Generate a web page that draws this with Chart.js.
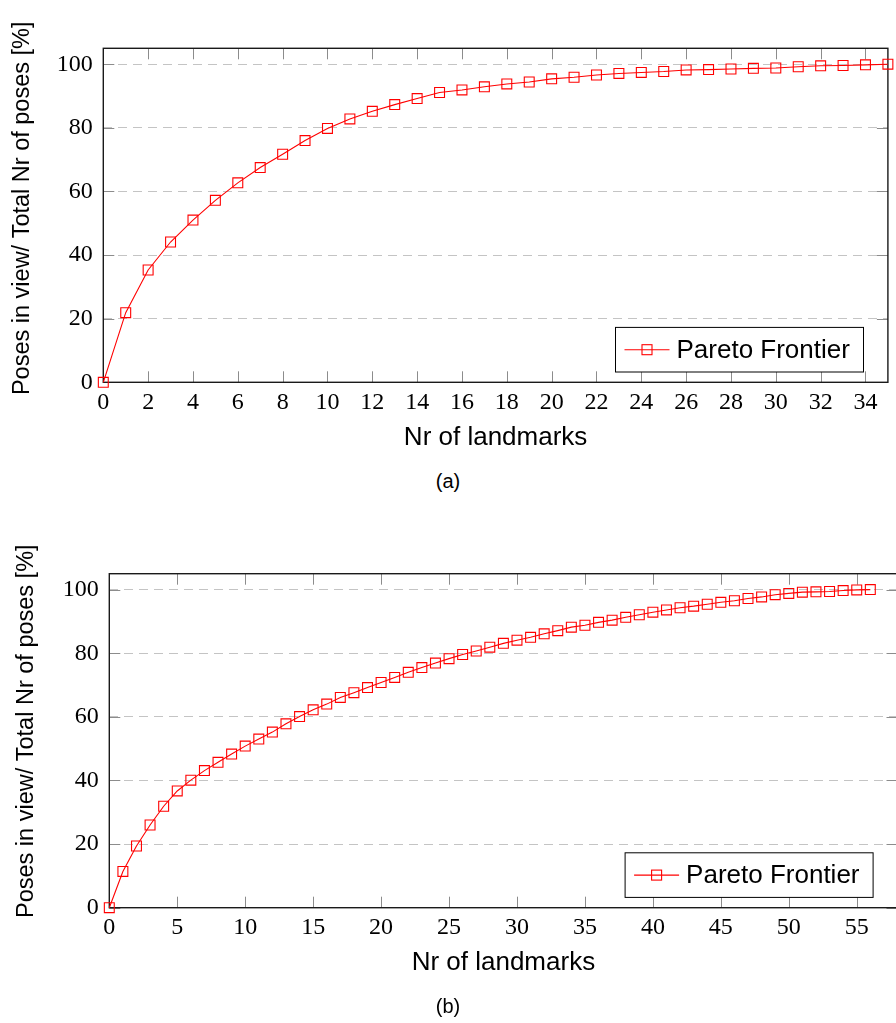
<!DOCTYPE html>
<html><head><meta charset="utf-8">
<script src="https://cdn.jsdelivr.net/npm/chart.js@4.4.0/dist/chart.umd.min.js"></script>
<style>
html,body{margin:0;padding:0;background:#fff;overflow:hidden;width:896px;height:1023px;position:relative;}
.wrap{position:absolute;}
.cap{position:absolute;width:896px;left:0;text-align:center;font-family:"Liberation Sans",Arial,sans-serif;font-size:20px;line-height:22px;color:#000;}
</style></head><body>
<div class="wrap" style="left:0;top:0;width:896px;height:470px"><canvas id="c1"></canvas></div>
<div class="cap" style="top:470px">(a)</div>
<div class="wrap" style="left:0;top:520px;width:910px;height:480px"><canvas id="c2"></canvas></div>
<div class="cap" style="top:995px">(b)</div>
<script>
// ---- data ----
const landmarksA = [0,1,2,3,4,5,6,7,8,9,10,11,12,13,14,15,16,17,18,19,20,21,22,23,24,25,26,27,28,29,30,31,32,33,34,35];
const posesA = [0,21.9,35.3,44.1,51.0,57.2,62.7,67.5,71.7,76.0,79.8,82.8,85.2,87.3,89.2,91.1,91.9,92.9,93.8,94.4,95.4,95.9,96.6,97.1,97.4,97.7,98.2,98.3,98.5,98.7,98.8,99.2,99.5,99.6,99.8,100];
const landmarksB = [0,1,2,3,4,5,6,7,8,9,10,11,12,13,14,15,16,17,18,19,20,21,22,23,24,25,26,27,28,29,30,31,32,33,34,35,36,37,38,39,40,41,42,43,44,45,46,47,48,49,50,51,52,53,54,55,56];
const posesB = [0,11.4,19.4,26.0,31.9,36.7,40.1,43.1,45.7,48.3,50.8,53.0,55.2,57.8,60.1,62.2,64.0,66.1,67.6,69.2,70.8,72.4,74.0,75.5,76.9,78.3,79.6,80.7,81.9,83.1,84.1,85.0,86.1,87.1,88.2,88.8,89.7,90.4,91.3,92.1,92.9,93.6,94.3,94.8,95.4,96.0,96.5,97.2,97.7,98.4,98.8,99.2,99.3,99.4,99.7,99.9,100];
const seriesLabel = 'Pareto Frontier';
const xTitle = 'Nr of landmarks';
const yTitle = 'Poses in view/ Total Nr of poses [%]';
const yTickStep = 20;

const SERIF = "'Liberation Serif', 'DejaVu Serif', serif";
const SANS = "'Liberation Sans', Arial, sans-serif";

const framePlugin = {
  id: 'frame',
  beforeDatasetsDraw(chart) {
    const {ctx, chartArea: a, scales: {x, y}} = chart;
    ctx.save();
    ctx.strokeStyle = '#8c8c8c';
    ctx.lineWidth = 1;
    ctx.beginPath();
    x.ticks.forEach(t => {
      const px = Math.round(x.getPixelForValue(t.value)) + 0.5;
      ctx.moveTo(px, a.bottom); ctx.lineTo(px, a.bottom - 11);
      ctx.moveTo(px, a.top); ctx.lineTo(px, a.top + 11);
    });
    y.ticks.forEach(t => {
      const py = Math.round(y.getPixelForValue(t.value)) + 0.5;
      ctx.moveTo(a.left, py); ctx.lineTo(a.left + 11, py);
      ctx.moveTo(a.right, py); ctx.lineTo(a.right - 11, py);
    });
    ctx.stroke();
    ctx.strokeStyle = '#1a1a1a';
    ctx.lineWidth = 1.4;
    ctx.strokeRect(a.left, a.top, a.right - a.left, a.bottom - a.top);
    ctx.restore();
  },
  afterDraw(chart, args, opts) {
    const {ctx, chartArea: a} = chart;
    const ds = chart.data.datasets[0];
    ctx.save();
    // y axis title
    ctx.translate(opts.titleX, (a.top + a.bottom) / 2 + opts.titleDy);
    ctx.rotate(-Math.PI / 2);
    ctx.fillStyle = '#000';
    ctx.font = '23.5px ' + SANS;
    ctx.textAlign = 'center';
    ctx.textBaseline = 'middle';
    ctx.fillText(opts.yTitle, 0, 0);
    ctx.restore();
    // legend
    const w = 248, h = 44.6;
    const bx = a.right - 24.4 - w, by = a.bottom - 10.3 - h;
    ctx.save();
    ctx.fillStyle = '#fff';
    ctx.fillRect(bx, by, w, h);
    ctx.strokeStyle = '#000';
    ctx.lineWidth = 1;
    ctx.strokeRect(bx, by, w, h);
    const cy = by + h / 2;
    ctx.strokeStyle = ds.borderColor;
    ctx.lineWidth = ds.borderWidth;
    ctx.beginPath();
    ctx.moveTo(bx + 9, cy); ctx.lineTo(bx + 54, cy);
    ctx.stroke();
    ctx.strokeRect(bx + 31.5 - 5, cy - 5, 10, 10);
    ctx.fillStyle = '#000';
    ctx.font = '26px ' + SANS;
    ctx.textBaseline = 'middle';
    ctx.textAlign = 'left';
    ctx.fillText(ds.label, bx + 61, cy + 1);
    ctx.restore();
  }
};

function makeChart(id, xs, ys, cfg) {
  return new Chart(document.getElementById(id), {
    type: 'line',
    data: {
      datasets: [{
        label: seriesLabel,
        data: xs.map((v, i) => ({x: v, y: ys[i]})),
        borderColor: '#ff0000',
        borderWidth: 1.1,
        pointStyle: 'rect',
        pointRadius: 7,
        pointBorderWidth: 1.1,
        pointBorderColor: '#ff0000',
        pointBackgroundColor: 'rgba(0,0,0,0)',
        tension: 0,
        clip: false
      }]
    },
    plugins: [framePlugin],
    options: {
      responsive: true,
      maintainAspectRatio: false,
      animation: false,
      events: [],
      layout: {padding: {left: 0, top: cfg.top, right: cfg.right, bottom: 0}},
      plugins: {
        legend: {display: false}, tooltip: {enabled: false},
        frame: {yTitle: yTitle, titleX: cfg.titleX, titleDy: cfg.titleDy}
      },
      scales: {
        x: {
          type: 'linear', min: 0, max: cfg.xmax,
          afterFit(s) { s.height = cfg.xh; s.paddingLeft = 0; s.paddingRight = 0; },
          grid: {display: false},
          border: {display: false},
          ticks: {stepSize: cfg.xstep, includeBounds: false, autoSkip: false, maxRotation: 0,
                  padding: -2, color: '#000', font: {family: SERIF, size: 24}},
          title: {display: true, text: xTitle, color: '#000', font: {family: SANS, size: 26},
                  padding: {top: cfg.xtp, bottom: cfg.xtp}}
        },
        y: {
          type: 'linear', min: 0, max: 105,
          afterFit(s) { s.width = cfg.yw; s.paddingTop = 0; s.paddingBottom = 0; },
          grid: {drawTicks: false, lineWidth: 1,
                 color: c => (c.tick && c.tick.value === 0) ? 'rgba(0,0,0,0)' : '#c4c4c4'},
          border: {display: false, dash: [9, 6]},
          ticks: {stepSize: yTickStep, includeBounds: false, padding: 10.5, color: '#000',
                  font: {family: SERIF, size: 24}},
          title: {display: false}
        }
      }
    }
  });
}

makeChart('c1', landmarksA, posesA, {top: 48.3, right: 4.3, xmax: 35, xstep: 2, xh: 87.7, xtp: 16.4, yw: 103.3, titleX: 22.5, titleDy: -7});
makeChart('c2', landmarksB, posesB, {top: 53.7, right: 12.5, xmax: 58, xstep: 5, xh: 92.3, xtp: 21.4, yw: 109.3, titleX: 26.7, titleDy: -9.5});
</script>
</body></html>
